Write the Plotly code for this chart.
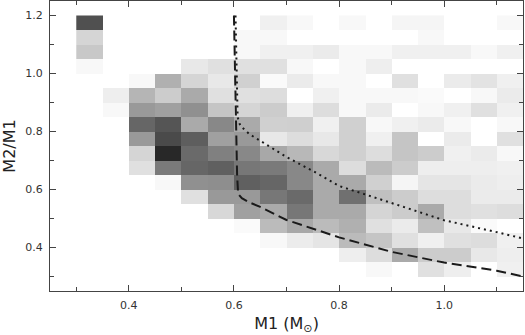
# plot.py — 2D mass-ratio histogram (M2/M1 vs M1) with two boundary curves

import plotly.graph_objects as go

# ─── Data ────────────────────────────────────────────────────────────────────

# lower edges of the histogram bins
x_bins = [0.30, 0.35, 0.40, 0.45, 0.50, 0.55, 0.60, 0.65, 0.70,
          0.75, 0.80, 0.85, 0.90, 0.95, 1.00, 1.05, 1.10]
y_bins = [0.25, 0.30, 0.35, 0.40, 0.45, 0.50, 0.55, 0.60, 0.65, 0.70,
          0.75, 0.80, 0.85, 0.90, 0.95, 1.00, 1.05, 1.10, 1.15]
bin_w = 0.05

# bin density (grey shade units, 0 = empty), one row per y bin, bottom to top
density = [
    [0, 0, 0, 0, 0, 0, 0, 0, 0, 0, 0, 0, 0, 0, 0, 0, 0],
    [0, 0, 0, 0, 0, 0, 0, 0, 0, 0, 0, 7, 0, 31, 17, 0, 15],
    [0, 0, 0, 0, 0, 0, 0, 0, 0, 0, 17, 34, 85, 51, 51, 23, 17],
    [0, 0, 0, 0, 0, 0, 0, 7, 19, 26, 68, 58, 31, 15, 31, 34, 15],
    [0, 0, 0, 0, 0, 0, 5, 68, 87, 68, 79, 31, 20, 63, 23, 5, 0],
    [0, 0, 0, 0, 0, 39, 95, 85, 136, 85, 85, 42, 51, 85, 34, 31, 34],
    [0, 0, 0, 0, 31, 102, 102, 136, 149, 85, 143, 63, 51, 34, 34, 20, 20],
    [0, 0, 0, 7, 111, 113, 159, 153, 119, 85, 85, 47, 10, 26, 26, 20, 17],
    [0, 0, 31, 133, 153, 159, 136, 133, 119, 85, 34, 68, 51, 17, 17, 17, 15],
    [0, 0, 42, 215, 149, 127, 119, 87, 71, 39, 47, 34, 58, 51, 15, 20, 7],
    [0, 0, 102, 181, 161, 95, 102, 23, 34, 23, 47, 15, 58, 0, 20, 0, 31],
    [0, 0, 153, 170, 85, 119, 85, 47, 48, 15, 47, 7, 15, 20, 7, 0, 7],
    [0, 7, 102, 95, 111, 58, 42, 51, 15, 34, 7, 20, 0, 7, 15, 31, 15],
    [0, 17, 74, 51, 85, 31, 31, 34, 0, 15, 7, 7, 7, 5, 0, 7, 20],
    [0, 0, 7, 79, 42, 23, 47, 5, 20, 7, 7, 0, 31, 0, 20, 28, 15],
    [7, 0, 0, 0, 23, 31, 31, 31, 7, 0, 7, 17, 0, 0, 0, 0, 0],
    [55, 0, 0, 0, 0, 0, 7, 15, 15, 20, 7, 7, 15, 15, 15, 7, 15],
    [42, 0, 0, 0, 0, 0, 7, 7, 0, 0, 0, 0, 0, 7, 0, 0, 0],
    [175, 0, 0, 0, 0, 0, 0, 15, 7, 0, 7, 0, 10, 10, 0, 0, 7],
]

# dashed boundary
dash_m1 = [0.600, 0.603, 0.606, 0.608, 0.615, 0.63, 0.65, 0.70, 0.80, 0.90, 1.00, 1.10, 1.15]
dash_q  = [1.20, 0.90, 0.65, 0.585, 0.570, 0.555, 0.540, 0.495, 0.435, 0.385, 0.348, 0.320, 0.300]

# dotted boundary
dot_m1 = [0.603, 0.605, 0.607, 0.612, 0.63, 0.65, 0.70, 0.75, 0.80, 0.85, 0.90, 0.95, 1.00, 1.10, 1.15]
dot_q  = [1.20, 1.00, 0.85, 0.82, 0.79, 0.768, 0.712, 0.664, 0.612, 0.583, 0.553, 0.522, 0.494, 0.453, 0.431]

# ─── Figure ──────────────────────────────────────────────────────────────────

fig = go.Figure()

fig.add_trace(go.Heatmap(
    x=[b + bin_w / 2 for b in x_bins],
    y=[b + bin_w / 2 for b in y_bins],
    z=density,
    zmin=0, zmax=255,
    colorscale=[[0, "#ffffff"], [1, "#000000"]],
    showscale=False,
    hoverinfo="skip",
))

fig.add_trace(go.Scatter(
    x=dash_m1, y=dash_q, mode="lines",
    line=dict(color="#1a1a1a", width=2, dash="10px,5px"),
    showlegend=False,
))

fig.add_trace(go.Scatter(
    x=dot_m1, y=dot_q, mode="lines",
    line=dict(color="#1a1a1a", width=2, dash="2px,4px"),
    showlegend=False,
))

axis_common = dict(
    showline=True, linecolor="#444", linewidth=1, mirror="ticks",
    ticks="inside", ticklen=6, tickcolor="#444", tickwidth=1,
    showgrid=False, zeroline=False,
    tickformat=".1f", dtick=0.2, tick0=0,
    tickfont=dict(size=11, color="#333"),
    minor=dict(ticks="inside", ticklen=4, tickcolor="#444", dtick=0.1, tick0=0),
)

fig.update_layout(
    width=525, height=335,
    margin=dict(l=50, r=2, t=1, b=44),
    paper_bgcolor="white",
    plot_bgcolor="white",
    font=dict(family="DejaVu Sans", color="#222"),
    xaxis=dict(
        range=[0.25, 1.15],
        title=dict(text="M1 (M<sub>⊙</sub>)", font=dict(size=16), standoff=6),
        ticklabelstandoff=4,
        **axis_common,
    ),
    yaxis=dict(
        range=[0.25, 1.25],
        title=dict(text="M2/M1", font=dict(size=16), standoff=6),
        ticklabelstandoff=4,
        **axis_common,
    ),
)

# page body has an 8px default margin; drop it so the figure fills the window
fig.write_html(
    "out.html",
    config={"displayModeBar": False},
    post_script="document.body.style.margin='0';",
)
